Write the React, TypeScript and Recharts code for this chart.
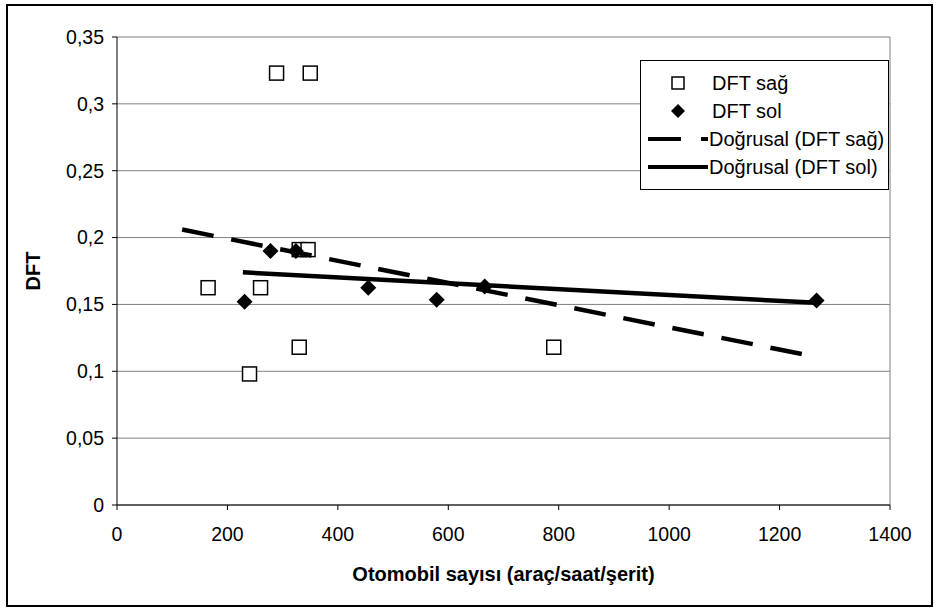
import React from "react";
import { ScatterChart, Scatter, XAxis, YAxis, CartesianGrid, Legend, ReferenceLine } from "recharts";

// DFT sağ (open squares)
const sagX = [289, 350, 165, 260, 330, 346, 330, 240, 791];
const sagY = [0.323, 0.323, 0.1625, 0.1625, 0.191, 0.191, 0.118, 0.098, 0.118];

// DFT sol (filled diamonds)
const solX = [231, 278, 324, 455, 579, 666, 1267];
const solY = [0.152, 0.19, 0.19, 0.1625, 0.1535, 0.1635, 0.153];

// linear trendlines, end points
const trendSagX = [118, 1266];
const trendSagY = [0.206, 0.1108];
const trendSolX = [228, 1267];
const trendSolY = [0.174, 0.1512];

const xTicks = [0, 200, 400, 600, 800, 1000, 1200, 1400];
const yTicks = [0, 0.05, 0.1, 0.15, 0.2, 0.25, 0.3, 0.35];

const legendNames = ["DFT sağ", "DFT sol", "Doğrusal (DFT sağ)", "Doğrusal (DFT sol)"];

const toPoints = (xs: number[], ys: number[]) => xs.map((x, i) => ({ x, y: ys[i] }));
const sagData = toPoints(sagX, sagY);
const solData = toPoints(solX, solY);
const trendSag = toPoints(trendSagX, trendSagY);
const trendSol = toPoints(trendSolX, trendSolY);

const FONT = '"Liberation Sans", Arial, sans-serif';
const DASH = "32 18";

const SquareDot = (props: any) => {
  const { cx, cy } = props;
  if (cx == null || cy == null) return <g />;
  return <rect x={cx - 7} y={cy - 7} width={14} height={14} fill="#fff" stroke="#000" strokeWidth={1.5} />;
};

const DiamondDot = (props: any) => {
  const { cx, cy } = props;
  if (cx == null || cy == null) return <g />;
  const r = 8;
  return <polygon points={`${cx},${cy - r} ${cx + r},${cy} ${cx},${cy + r} ${cx - r},${cy}`} fill="#000" />;
};

function LegendIcon({ index }: { index: number }) {
  return (
    <svg width={68} height={28} style={{ display: "block", flex: "none" }}>
      {index === 0 && <rect x={31} y={8} width={12} height={12} fill="#fff" stroke="#000" strokeWidth={1.5} />}
      {index === 1 && <polygon points="37,7 44,14 37,21 30,14" fill="#000" />}
      {index === 2 && <line x1={7} y1={14} x2={67} y2={14} stroke="#000" strokeWidth={4} strokeDasharray="33 20" />}
      {index === 3 && <line x1={7} y1={14} x2={67} y2={14} stroke="#000" strokeWidth={4} />}
    </svg>
  );
}

function ChartLegend() {
  return (
    <div
      style={{
        width: 249,
        height: 130,
        boxSizing: "border-box",
        border: "1px solid #000",
        background: "#fff",
        paddingTop: 8,
        fontFamily: FONT,
        fontSize: 20,
        color: "#000",
      }}
    >
      {legendNames.map((name, i) => (
        <div key={name} style={{ display: "flex", alignItems: "center", height: 28 }}>
          <LegendIcon index={i} />
          <span style={{ marginLeft: i < 2 ? 3 : 0, whiteSpace: "nowrap" }}>{name}</span>
        </div>
      ))}
    </div>
  );
}

const YTitle = (props: any) => {
  const vb = props.viewBox || {};
  const cy = (vb.y ?? 0) + (vb.height ?? 0) / 2;
  return (
    <text
      x={33}
      y={cy}
      transform={`rotate(-90, 33, ${cy})`}
      textAnchor="middle"
      dominantBaseline="central"
      fontFamily={FONT}
      fontSize={20}
      fontWeight="bold"
      fill="#000"
    >
      DFT
    </text>
  );
};

export default function App() {
  const tick = { fill: "#000", fontSize: 19.5, fontFamily: FONT };
  return (
    <div style={{ position: "absolute", left: 0, top: 0, width: 940, height: 608, background: "#fff" }}>
      <div
        style={{
          position: "absolute",
          left: 6,
          top: 4,
          width: 927,
          height: 603,
          border: "2px solid #000",
          boxSizing: "border-box",
        }}
      />
      <ScatterChart
        width={940}
        height={608}
        margin={{ top: 37, right: 50, bottom: 0, left: 0 }}
        style={{ position: "absolute", left: 0, top: 0 }}
      >
        <CartesianGrid vertical={false} stroke="#808080" strokeWidth={1} />
        <XAxis
          type="number"
          dataKey="x"
          domain={[0, 1400]}
          ticks={xTicks}
          allowDataOverflow
          height={103}
          tickSize={5}
          tickMargin={17}
          tick={tick}
          axisLine={{ stroke: "#000" }}
          tickLine={{ stroke: "#000" }}
          label={{
            value: "Otomobil sayısı (araç/saat/şerit)",
            position: "insideBottom",
            offset: 27,
            style: { fontFamily: FONT, fontSize: 20, fontWeight: "bold", fill: "#000" },
          }}
        />
        <YAxis
          type="number"
          dataKey="y"
          domain={[0, 0.35]}
          ticks={yTicks}
          allowDataOverflow
          width={117}
          tickSize={5}
          tickMargin={8}
          tick={tick}
          axisLine={{ stroke: "#000" }}
          tickLine={{ stroke: "#000" }}
          tickFormatter={(v: number) => String(v).replace(".", ",")}
          label={<YTitle />}
        />
        <ReferenceLine x={1400} stroke="#808080" />
        <Scatter name="DFT sağ" data={sagData} shape={SquareDot} isAnimationActive={false} />
        <Scatter name="DFT sol" data={solData} shape={DiamondDot} isAnimationActive={false} />
        <Scatter
          name="Doğrusal (DFT sağ)"
          data={trendSag}
          line={{ stroke: "#000", strokeWidth: 4.5, strokeDasharray: DASH }}
          shape={() => <g />}
          isAnimationActive={false}
        />
        <Scatter
          name="Doğrusal (DFT sol)"
          data={trendSol}
          line={{ stroke: "#000", strokeWidth: 4.5 }}
          shape={() => <g />}
          isAnimationActive={false}
        />
        <Legend
          layout="horizontal"
          verticalAlign="middle"
          align="center"
          content={() => <ChartLegend />}
          wrapperStyle={{ position: "absolute", left: 640, top: 60, width: 249, height: 130 }}
        />
      </ScatterChart>
    </div>
  );
}
